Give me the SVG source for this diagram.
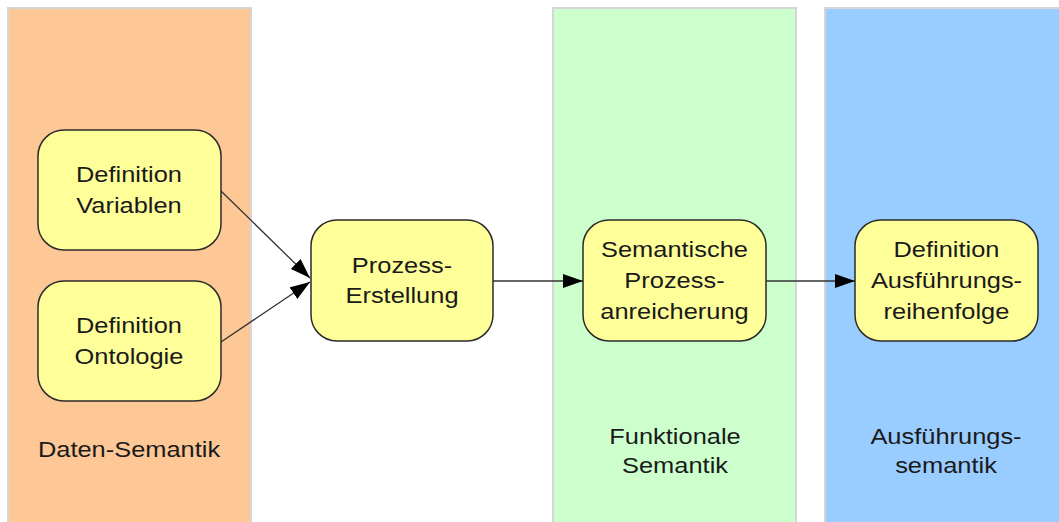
<svg xmlns="http://www.w3.org/2000/svg" width="1059" height="522" viewBox="0 0 1059 522">
<style>
.lane{stroke:#d6d6d6;stroke-width:2}
.node rect{fill:#FFFF99;stroke:#2b2b2b;stroke-width:1.5}
text{font-family:"Liberation Sans",Arial,sans-serif;font-size:22.5px;fill:#1a1a1a;text-anchor:middle}
.conn{stroke:#333;stroke-width:1.3;fill:none;marker-end:url(#ah)}
</style>
<defs>
<marker id="ah" viewBox="0 0 20 14" refX="20" refY="7" markerWidth="20" markerHeight="14" markerUnits="userSpaceOnUse" orient="auto">
<path d="M0,0 L20,7 L0,14 Z" fill="#000"/>
</marker>
</defs>
<rect width="1059" height="522" fill="#fff"/>
<g id="lanes">
<rect class="lane" x="8" y="8" width="243" height="520" fill="#FDC896"/>
<rect class="lane" x="553" y="8" width="243" height="520" fill="#CCFFCC"/>
<rect class="lane" x="825" y="8" width="240" height="520" fill="#99CCFF"/>
<text transform="translate(129,457) scale(1.13,1)">Daten-Semantik</text>
<text transform="translate(675,444) scale(1.13,1)">Funktionale</text>
<text transform="translate(675,473) scale(1.13,1)">Semantik</text>
<text transform="translate(946,444) scale(1.13,1)">Ausführungs-</text>
<text transform="translate(946,473) scale(1.13,1)">semantik</text>
</g>
<g id="connectors">
<line class="conn" x1="221" y1="191" x2="310" y2="278"/>
<line class="conn" x1="221" y1="342" x2="310" y2="282"/>
<line class="conn" x1="493" y1="281" x2="583" y2="281"/>
<line class="conn" x1="766" y1="281" x2="855" y2="281"/>
</g>
<g id="n1" class="node">
<rect x="38" y="130" width="183" height="120" rx="26"/>
<text transform="translate(129,182) scale(1.13,1)">Definition</text>
<text transform="translate(129,213) scale(1.13,1)">Variablen</text>
</g>
<g id="n2" class="node">
<rect x="38" y="281" width="183" height="120" rx="26"/>
<text transform="translate(129,333) scale(1.13,1)">Definition</text>
<text transform="translate(129,364) scale(1.13,1)">Ontologie</text>
</g>
<g id="n3" class="node">
<rect x="311" y="220" width="182" height="121" rx="26"/>
<text transform="translate(402,273) scale(1.13,1)">Prozess-</text>
<text transform="translate(402,303) scale(1.13,1)">Erstellung</text>
</g>
<g id="n4" class="node">
<rect x="583" y="220" width="183" height="121" rx="26"/>
<text transform="translate(674.5,257) scale(1.13,1)">Semantische</text>
<text transform="translate(674.5,288) scale(1.13,1)">Prozess-</text>
<text transform="translate(674.5,319) scale(1.13,1)">anreicherung</text>
</g>
<g id="n5" class="node">
<rect x="855" y="220" width="183" height="121" rx="26"/>
<text transform="translate(946.5,257) scale(1.13,1)">Definition</text>
<text transform="translate(946.5,288) scale(1.13,1)">Ausführungs-</text>
<text transform="translate(946.5,319) scale(1.13,1)">reihenfolge</text>
</g>
</svg>
